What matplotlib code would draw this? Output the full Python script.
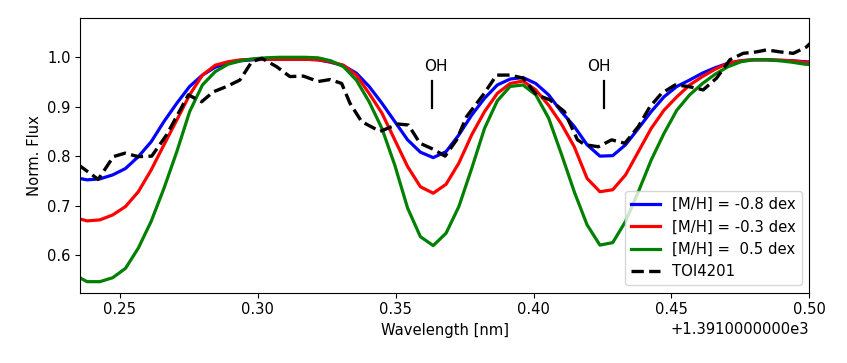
import numpy as np
import matplotlib
matplotlib.use("Agg")
import matplotlib.pyplot as plt
from matplotlib.ticker import ScalarFormatter

# ---- data (wavelength in nm) ----
wl0 = 1391.0
step = 0.00465
k = np.arange(-28, 31)
model_wl = wl0 + 0.3636 + k * step

blue_flux = [0.757, 0.752, 0.754, 0.762, 0.775, 0.799, 0.829, 0.870, 0.907, 0.941,
             0.964, 0.980, 0.988, 0.993, 0.995, 0.996, 0.996, 0.996, 0.996, 0.995,
             0.990, 0.983, 0.968, 0.941, 0.907, 0.870, 0.833, 0.808, 0.797, 0.809,
             0.843, 0.883, 0.917, 0.944, 0.956, 0.959, 0.947, 0.924, 0.890,
             0.860, 0.823, 0.800, 0.801, 0.823, 0.856, 0.890, 0.920, 0.941, 0.954,
             0.968, 0.979, 0.988, 0.993, 0.995, 0.995, 0.994, 0.993, 0.991, 0.990]
red_flux = [0.676, 0.669, 0.671, 0.681, 0.698, 0.728, 0.772, 0.823, 0.873, 0.924,
            0.964, 0.984, 0.991, 0.995, 0.996, 0.996, 0.996, 0.996, 0.996, 0.995,
            0.991, 0.984, 0.964, 0.927, 0.887, 0.833, 0.779, 0.738, 0.725, 0.743,
            0.786, 0.843, 0.890, 0.927, 0.947, 0.952, 0.934, 0.903, 0.865,
            0.819, 0.755, 0.728, 0.732, 0.762, 0.809, 0.856, 0.893, 0.920, 0.944,
            0.961, 0.976, 0.988, 0.993, 0.995, 0.995, 0.994, 0.993, 0.990, 0.989]
green_flux = [0.560, 0.546, 0.546, 0.554, 0.573, 0.614, 0.668, 0.735, 0.809, 0.890,
              0.944, 0.971, 0.986, 0.993, 0.997, 0.999, 1.000, 1.000, 1.000, 0.999,
              0.993, 0.981, 0.954, 0.910, 0.856, 0.782, 0.695, 0.637, 0.619, 0.644,
              0.698, 0.775, 0.856, 0.912, 0.941, 0.944, 0.924, 0.877, 0.804,
              0.728, 0.661, 0.620, 0.625, 0.668, 0.728, 0.792, 0.846, 0.893, 0.924,
              0.947, 0.966, 0.981, 0.991, 0.995, 0.995, 0.993, 0.990, 0.986, 0.984]

toi_dwl = [0.2348, 0.2421, 0.2476, 0.2518, 0.2566, 0.2615, 0.2669, 0.2748, 0.2796,
           0.2838, 0.2887, 0.2935, 0.2978, 0.3014, 0.3068, 0.3116, 0.3165, 0.3219,
           0.3262, 0.3304, 0.3334, 0.3376, 0.3443, 0.3509, 0.3546, 0.3588, 0.3636,
           0.3679, 0.3721, 0.3757, 0.3817, 0.3866, 0.3914, 0.3962, 0.4011, 0.4059,
           0.4112, 0.4159, 0.4187, 0.4235, 0.4283, 0.4331, 0.4380, 0.4422, 0.4464,
           0.4513, 0.4561, 0.4615, 0.4664, 0.4712, 0.4760, 0.4809, 0.4845, 0.4893,
           0.4942, 0.4990, 0.5010]
toi_flux = [0.783, 0.753, 0.799, 0.806, 0.799, 0.800, 0.843, 0.924, 0.910,
            0.930, 0.941, 0.954, 0.991, 0.998, 0.981, 0.961, 0.962, 0.951,
            0.955, 0.947, 0.907, 0.870, 0.850, 0.865, 0.863, 0.826, 0.814,
            0.800, 0.833, 0.880, 0.924, 0.964, 0.964, 0.958, 0.924, 0.914,
            0.890, 0.833, 0.823, 0.819, 0.833, 0.826, 0.860, 0.900, 0.927,
            0.944, 0.941, 0.934, 0.958, 0.995, 1.008, 1.011, 1.015, 1.011,
            1.008, 1.021, 1.032]
toi_wl = wl0 + np.array(toi_dwl)

labels = ["[M/H] = -0.8 dex", "[M/H] = -0.3 dex", "[M/H] =  0.5 dex", "TOI4201"]
oh_lines = [wl0 + 0.3630, wl0 + 0.4254]
oh_text_x = [wl0 + 0.3645, wl0 + 0.4238]

xticks = wl0 + np.array([0.25, 0.30, 0.35, 0.40, 0.45, 0.50])
yticks = [0.6, 0.7, 0.8, 0.9, 1.0]


class OldOffsetFormatter(ScalarFormatter):
    def get_offset(self):
        if self.offset:
            mant, exp = ("%1.10e" % self.offset).split("e")
            return "+%se%d" % (mant, int(exp))
        return super().get_offset()


fs = 10.6
plt.rcParams['font.family'] = ['DejaVu Sans']
fig = plt.figure(figsize=(8.47, 3.63), dpi=100)
ax = fig.add_axes([0.0948, 0.1937, 0.9555 - 0.0948, 0.9504 - 0.1937])

lw = 2.3
ax.plot(model_wl, blue_flux, color='blue', lw=lw, label=labels[0])
ax.plot(model_wl, red_flux, color='red', lw=lw, label=labels[1])
ax.plot(model_wl, green_flux, color='green', lw=lw, label=labels[2])
ax.plot(toi_wl, toi_flux, color='black', lw=2.4, ls='--', label=labels[3])

for xl, xt in zip(oh_lines, oh_text_x):
    ax.plot([xl, xl], [0.898, 0.952], color='black', lw=1.6)
    ax.text(xt, 0.981, "OH", ha='center', va='center', fontsize=11)

ax.set_xlim(wl0 + 0.2356, wl0 + 0.5)
ax.set_ylim(0.5237, 1.0795)
ax.set_xticks(xticks)
ax.set_yticks(yticks)
fmt = OldOffsetFormatter(useOffset=True)
ax.xaxis.set_major_formatter(fmt)
ax.tick_params(labelsize=fs)
ax.xaxis.get_offset_text().set_fontsize(fs)
ax.set_xlabel("Wavelength [nm]", fontsize=fs)
ax.set_ylabel("Norm. Flux", fontsize=fs)
ax.legend(loc='lower right', fontsize=10.7)

fig.savefig("out.png", dpi=100)
